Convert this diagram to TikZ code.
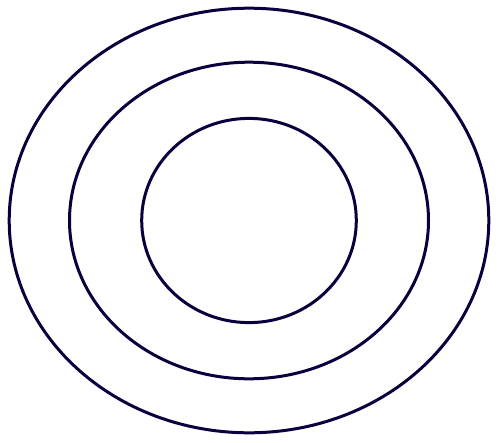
\documentclass[tikz,border=0pt]{standalone}
\begin{document}
\begin{tikzpicture}[x=1pt,y=-1pt]
\definecolor{ringcol}{HTML}{0B003D}
\tikzset{ring/.style={draw=ringcol,line width=3pt}}
\useasboundingbox[fill=white] (0,0) rectangle (498,442);
\coordinate (c) at (249,220.5);
\draw[ring] (c) ellipse [x radius=239.8, y radius=212.3];
\draw[ring] (c) ellipse [x radius=179.5, y radius=158.3];
\draw[ring] (c) ellipse [x radius=107.3, y radius=102.1];
\end{tikzpicture}
\end{document}
